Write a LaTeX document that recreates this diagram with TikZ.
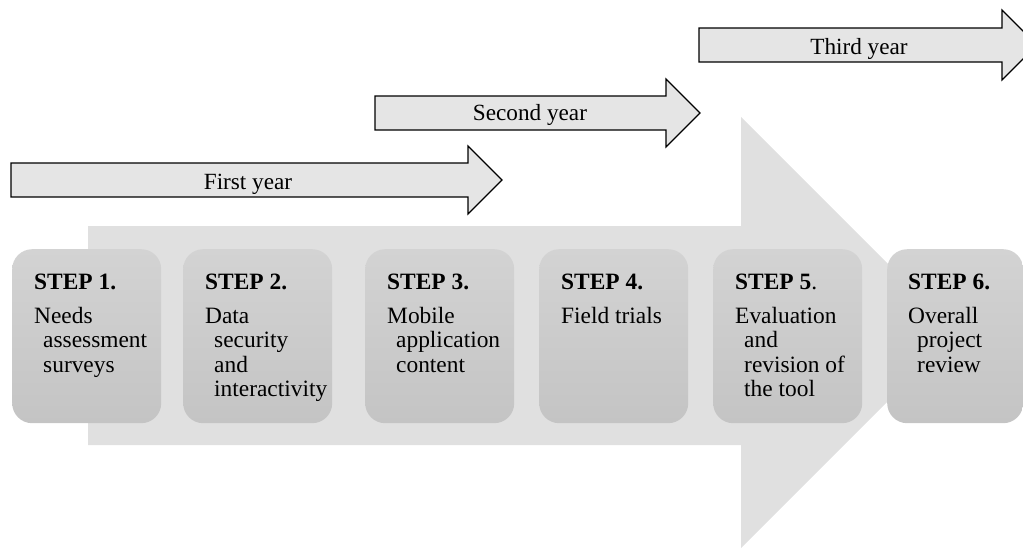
\documentclass[tikz,border=0pt]{standalone}
\usepackage{fontspec}
\setmainfont{Liberation Serif}
\definecolor{bgarrow}{RGB}{224,224,224}
\definecolor{yearfill}{RGB}{229,229,229}
\definecolor{boxtop}{RGB}{211,211,211}
\definecolor{boxbot}{RGB}{196,196,196}
\begin{document}
\begin{tikzpicture}[x=1pt,y=-1pt,
  yeararrow/.style={draw=black,line width=1.1pt,fill=yearfill,line join=miter},
  yeartext/.style={anchor=base,inner sep=0pt,font=\fontsize{23.2}{24.5}\selectfont},
  stepbox/.style={anchor=north west,minimum width=149pt,minimum height=174pt,rounded corners=20pt,top color=boxtop,bottom color=boxbot,draw=none,inner sep=0pt},
  steptext/.style={anchor=north west,inner sep=0pt,align=left,font=\fontsize{23.4}{24.5}\selectfont}]
\useasboundingbox (0,0) rectangle (1023,549);
\clip (0,0) rectangle (1023,549);
% big background arrow
\fill[bgarrow] (88,226) -- (741,226) -- (741,117) -- (956.5,332.5) -- (741,548) -- (741,445) -- (88,445) -- cycle;
% year arrows
\draw[yeararrow] (11,163) -- (468,163) -- (468,146) -- (502,180) -- (468,214) -- (468,197) -- (11,197) -- cycle;
\node[yeartext] (y1) at (248,189.3) {First year};
\draw[yeararrow] (375,96) -- (666,96) -- (666,79) -- (700,113) -- (666,147) -- (666,130) -- (375,130) -- cycle;
\node[yeartext] (y2) at (530,120) {Second year};
\draw[yeararrow] (699,28) -- (1002,28) -- (1002,10) -- (1037,45) -- (1002,80) -- (1002,62) -- (699,62) -- cycle;
\node[yeartext] (y3) at (859,54.3) {Third year};
% step boxes
\node[stepbox] (s1) at (12,249) {};
\node[stepbox] (s2) at (183,249) {};
\node[stepbox] (s3) at (365,249) {};
\node[stepbox] (s4) at (539,249) {};
\node[stepbox] (s5) at (713,249) {};
\node[stepbox,minimum width=136pt] (s6) at (887,249) {};
% step texts
\node[steptext] (t1) at (34,273.5) {\textbf{STEP 1.}\\[9.5pt]Needs\\\hspace*{9pt}assessment\\\hspace*{9pt}surveys};
\node[steptext] (t2) at (205,273.5) {\textbf{STEP 2.}\\[9.5pt]Data\\\hspace*{9pt}security\\\hspace*{9pt}and\\\hspace*{9pt}interactivity};
\node[steptext] (t3) at (387,273.5) {\textbf{STEP 3.}\\[9.5pt]Mobile\\\hspace*{9pt}application\\\hspace*{9pt}content};
\node[steptext] (t4) at (561,273.5) {\textbf{STEP 4.}\\[9.5pt]Field trials};
\node[steptext] (t5) at (735,273.5) {\textbf{STEP 5}.\\[9.5pt]Evaluation\\\hspace*{9pt}and\\\hspace*{9pt}revision of\\\hspace*{9pt}the tool};
\node[steptext] (t6) at (908,273.5) {\textbf{STEP 6.}\\[9.5pt]Overall\\\hspace*{9pt}project\\\hspace*{9pt}review};
\end{tikzpicture}
\end{document}
